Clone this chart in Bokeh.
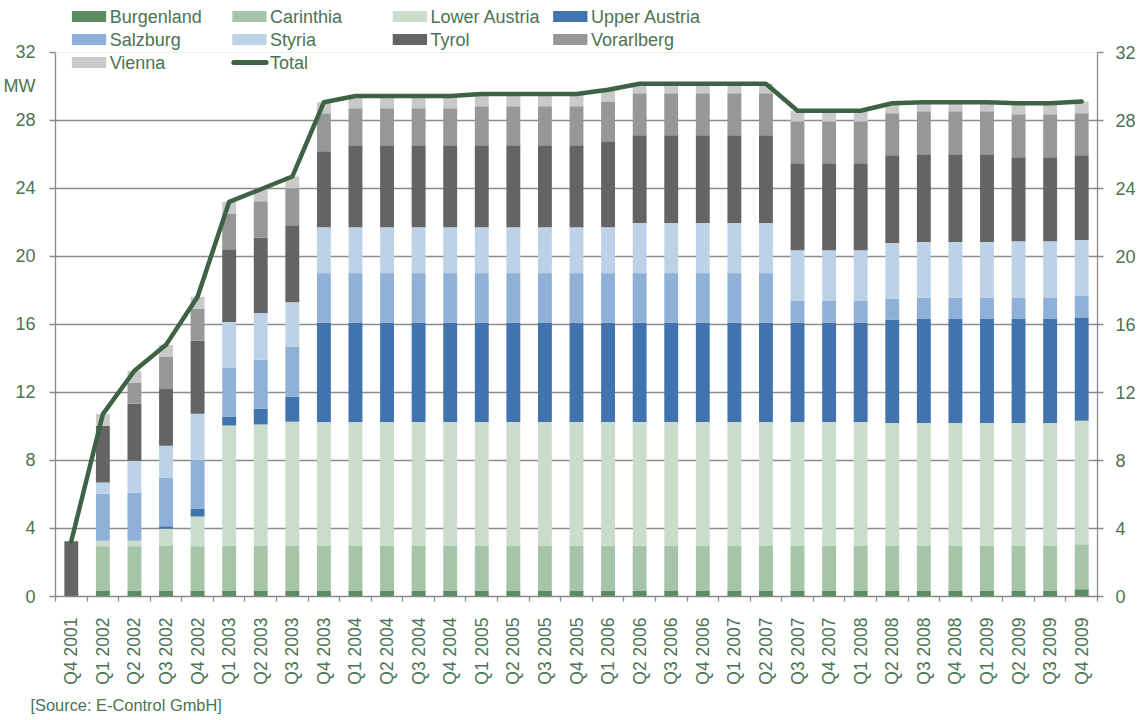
import math
from bokeh.plotting import figure
from bokeh.models import (ColumnDataSource, Range1d, LinearAxis, FixedTicker,
                          Label, BoxAnnotation, Arrow, Span, Title)
from bokeh.embed import file_html
from bokeh.resources import INLINE

quarters = ["Q4 2001", "Q1 2002", "Q2 2002", "Q3 2002", "Q4 2002",
            "Q1 2003", "Q2 2003", "Q3 2003", "Q4 2003",
            "Q1 2004", "Q2 2004", "Q3 2004", "Q4 2004",
            "Q1 2005", "Q2 2005", "Q3 2005", "Q4 2005",
            "Q1 2006", "Q2 2006", "Q3 2006", "Q4 2006",
            "Q1 2007", "Q2 2007", "Q3 2007", "Q4 2007",
            "Q1 2008", "Q2 2008", "Q3 2008", "Q4 2008",
            "Q1 2009", "Q2 2009", "Q3 2009", "Q4 2009"]

burgenland = [0.0] + [0.35] * 31 + [0.42]
carinthia = [0.0, 2.6, 2.6, 2.65, 2.6] + [2.65] * 27 + [2.66]
lower_austria = [0.0, 0.33, 0.33, 0.99, 1.76, 7.06, 7.12, 7.28] + [7.27] * 18 + [7.21] * 6 + [7.25]
upper_austria = [0.0, 0.0, 0.0, 0.14, 0.47, 0.53, 0.92, 1.46] + [5.82] * 18 + [6.06] + [6.11] * 5 + [6.05]
salzburg = [0.0, 2.77, 2.83, 2.87, 2.87, 2.88, 2.88, 2.94] + [2.93] * 15 + [1.29] * 3 + [1.23] + [1.24] * 5 + [1.29]
styria = [0.0, 0.65, 1.88, 1.87, 2.70, 2.68, 2.76, 2.62] + [2.70] * 10 + [2.94] * 5 + [2.99] * 3 + [3.29] * 4 + [3.34] * 2 + [3.29]
tyrol = [3.25, 3.34, 3.35, 3.34, 4.29, 4.28, 4.42, 4.54, 4.47] + [4.82] * 8 + [5.06] + [5.17] * 5 + [5.11] * 3 + [5.16] * 4 + [4.94] * 2 + [4.99]
vorarlberg = [0.0, 0.0, 1.25, 1.88, 1.88, 2.07, 2.15, 2.17, 2.23] + [2.17] * 4 + [2.29] * 4 + [2.34] + [2.47] * 8 + [2.47] + [2.53] * 3 + [2.52] * 2 + [2.47]
vienna = [0.0, 0.69, 0.69, 0.71, 0.71, 0.71, 0.70, 0.69, 0.65] + [0.73] * 4 + [0.72] * 4 + [0.68] + [0.56] * 5 + [0.62] * 3 + [0.59] + [0.53] * 3 + [0.65] * 2 + [0.70]
total = [3.25, 10.73, 13.28, 14.8, 17.63, 23.21, 23.95, 24.7, 29.07] + [29.44] * 4 + [29.55] * 4 + [29.8] + [30.16] * 5 + [28.57] * 3 + [29.01] + [29.07] * 3 + [29.01] * 2 + [29.12]

series_names = ["Burgenland", "Carinthia", "Lower Austria", "Upper Austria",
                "Salzburg", "Styria", "Tyrol", "Vorarlberg", "Vienna"]
series_values = [burgenland, carinthia, lower_austria, upper_austria,
                 salzburg, styria, tyrol, vorarlberg, vienna]
colors = ["#5b8c61", "#a6c4a8", "#cadccc", "#4174ae",
          "#90b1d7", "#bed2e7", "#646464", "#979797", "#c9c9c9"]
line_color = "#3e6344"
text_color = "#4b7351"
axis_color = "#8a8a8a"
yticks = [0, 4, 8, 12, 16, 20, 24, 28, 32]
unit_label = "MW"
unit_pos = 30
source_note = "[Source: E-Control GmbH]"

n = len(quarters)
xs = list(range(n))
data = {"x": xs, "total": total}
for name, vals in zip(series_names, series_values):
    data[name] = vals
source = ColumnDataSource(data)

# layout geometry (pixels)
W, H = 1138, 720
F_LEFT, F_RIGHT, F_BOTTOM = 52, 1101, 597
px_y = 545.0 / 32.0
y_end = 32 + 52 / px_y

p = figure(width=W, height=H, output_backend="svg", toolbar_location=None,
           x_range=Range1d(-0.5, n - 0.5), y_range=Range1d(0, y_end),
           min_border_left=F_LEFT, min_border_right=W - F_RIGHT, min_border_top=0,
           min_border_bottom=H - F_BOTTOM, x_axis_location="below")
p.outline_line_color = None
p.background_fill_color = "white"
p.border_fill_color = "white"

# bars
p.vbar_stack(series_names, x="x", width=0.44, fill_color=colors,
             line_color=None, source=source)
# total line
p.line("x", "total", source=source, line_color=line_color, line_width=4.5,
       line_join="round", line_cap="round")

# x axis
xa = p.xaxis[0]
xa.ticker = FixedTicker(ticks=xs, minor_ticks=[i - 0.5 for i in range(n + 1)])
xa.major_label_overrides = {i: q for i, q in enumerate(quarters)}
xa.major_label_orientation = math.pi / 2
xa.major_tick_out = 0
xa.major_tick_in = 0
xa.minor_tick_out = 5
xa.minor_tick_in = 0
xa.minor_tick_line_color = axis_color
xa.minor_tick_line_width = 1.3
xa.axis_line_color = axis_color
xa.axis_line_width = 1.3
xa.major_label_standoff = 16
xa.major_label_text_font = "Liberation Sans"
xa.major_label_text_font_size = "17.5px"
xa.major_label_text_color = text_color

# y axes
ya = p.yaxis[0]
ra = LinearAxis()
p.add_layout(ra, "right")
for ax in (ya, ra):
    ax.bounds = (0, 32)
    ax.major_tick_in = 0
    ax.axis_line_color = axis_color
    ax.axis_line_width = 1.3
    ax.major_label_text_font = "Liberation Sans"
    ax.major_label_text_font_size = "18px"
    ax.major_label_text_color = text_color

# left axis: tick marks drawn as minor ticks so the unit label can sit on a bare tick
ya.ticker = FixedTicker(ticks=sorted(yticks + [unit_pos]), minor_ticks=yticks)
ya.major_label_overrides = {unit_pos: unit_label}
ya.major_tick_out = 0
ya.major_tick_line_color = None
ya.minor_tick_out = 6
ya.minor_tick_in = 0
ya.minor_tick_line_color = axis_color
ya.minor_tick_line_width = 1.3
ya.major_label_standoff = 14

ra.ticker = FixedTicker(ticks=yticks)
ra.major_tick_out = 6
ra.major_tick_line_color = axis_color
ra.major_tick_line_width = 1.3
ra.minor_tick_line_color = None
ra.major_label_standoff = 12

# grid
p.xgrid.grid_line_color = None
p.ygrid.ticker = FixedTicker(ticks=yticks[1:-1])
p.ygrid.grid_line_color = "#8c8c8c"
p.ygrid.grid_line_width = 1.3
p.add_layout(Span(location=32, dimension="width", line_color="#ececec", line_width=1))

# ---- legend (manual, placed in data units inside the frame) ----
px_x = (F_RIGHT - F_LEFT) / float(n)


def dx(page_x):
    return (page_x - F_LEFT) / px_x - 0.5


def dy(page_y):
    return (F_BOTTOM - page_y) / px_y


row_y = [16, 39, 62]
col_text_x = [106.5, 268, 429.5, 591]
legend_entries = list(zip(series_names, colors)) + [("Total", None)]
for k, (name, col) in enumerate(legend_entries):
    r, c = divmod(k, 4)
    yc = row_y[r]
    tx = col_text_x[c]
    if col is not None:
        p.add_layout(BoxAnnotation(left=dx(tx - 38), right=dx(tx - 3.5),
                                   top=dy(yc - 5.5), bottom=dy(yc + 5.5),
                                   fill_color=col, fill_alpha=1.0,
                                   line_color=None, level="overlay"))
    else:
        p.add_layout(Arrow(x_start=dx(tx - 36.5), y_start=dy(yc),
                           x_end=dx(tx - 4), y_end=dy(yc), end=None,
                           line_color=line_color, line_width=5,
                           line_cap="round", level="overlay"))
    p.add_layout(Label(x=dx(tx), y=dy(yc + 1), text=name,
                       text_font="Liberation Sans", text_font_size="18px",
                       text_color=text_color, text_align="left",
                       text_baseline="middle", level="overlay"))

# source note
p.add_layout(Title(text=source_note, align="left", offset=-25, standoff=13,
                   text_font="Liberation Sans", text_font_size="16.4px",
                   text_font_style="normal", text_color=text_color), "below")

open("out.html", "w").write(file_html(p, INLINE))
